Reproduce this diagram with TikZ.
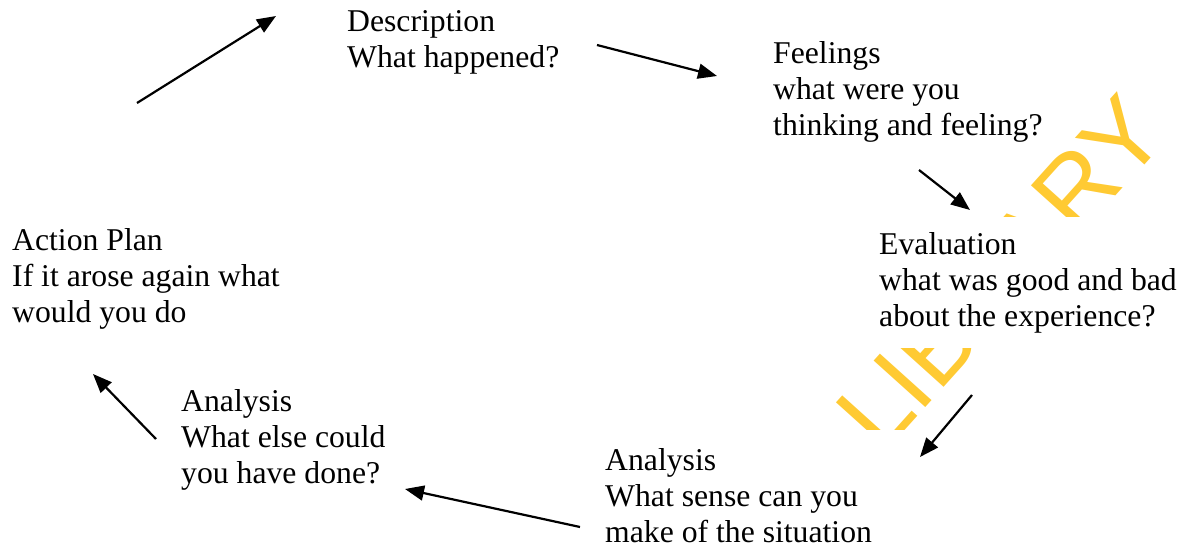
\documentclass[tikz,border=0pt]{standalone}
\usepackage{fontspec}
\setmainfont{Liberation Serif}
\newfontfamily\markfont{Liberation Sans}
\usetikzlibrary{arrows.meta}
\definecolor{markyellow}{RGB}{255,202,51}
\begin{document}
\begin{tikzpicture}[x=1pt,y=-1pt,
  stage/.style={anchor=north west, align=left, fill=white, inner xsep=8pt,
    inner ysep=15pt, font=\fontsize{31.7}{36}\selectfont},
  flow/.style={line width=2.2pt, -{Triangle[length=19pt,width=15pt]}}]
\useasboundingbox (0,0) rectangle (1186,548);

% background lettering, partly covered by the white text boxes
\node[rotate=48, anchor=base west, inner sep=0pt, text=markyellow,
  font=\markfont\fontsize{101}{101}\selectfont] (mark) at (882,456) {LIBRARY};

% the six stages of the cycle
\node[stage] (desc) at (339,-4.2) {Description\\What happened?};
\node[stage] (feel) at (765,26.4) {Feelings\\what were you\\thinking and feeling?};
\node[stage] (eval) at (871,217) {Evaluation\\what was good and bad\\about the experience?};
\node[stage, align=flush left, text width=310pt, inner ysep=19pt] (sense) at (597,429.4)
  {Analysis\\What sense can you\\make of the situation};
\node[stage] (else) at (173,373.9) {Analysis\\What else could\\you have done?};
\node[stage] (plan) at (4,213.4) {Action Plan\\If it arose again what\\would you do};

% arrow end points
\coordinate (planOut) at (137,103);
\coordinate (descIn) at (276,16);
\coordinate (descOut) at (597,45);
\coordinate (feelIn) at (717,76);
\coordinate (feelOut) at (919,170);
\coordinate (evalIn) at (970,210);
\coordinate (evalOut) at (972,395);
\coordinate (senseIn) at (920,457);
\coordinate (senseOut) at (580,527);
\coordinate (elseIn) at (405,489);
\coordinate (elseOut) at (156,439);
\coordinate (planIn) at (93,374);

\draw[flow] (planOut) -- (descIn);
\draw[flow] (descOut) -- (feelIn);
\draw[flow] (feelOut) -- (evalIn);
\draw[flow] (evalOut) -- (senseIn);
\draw[flow] (senseOut) -- (elseIn);
\draw[flow] (elseOut) -- (planIn);
\end{tikzpicture}
\end{document}
